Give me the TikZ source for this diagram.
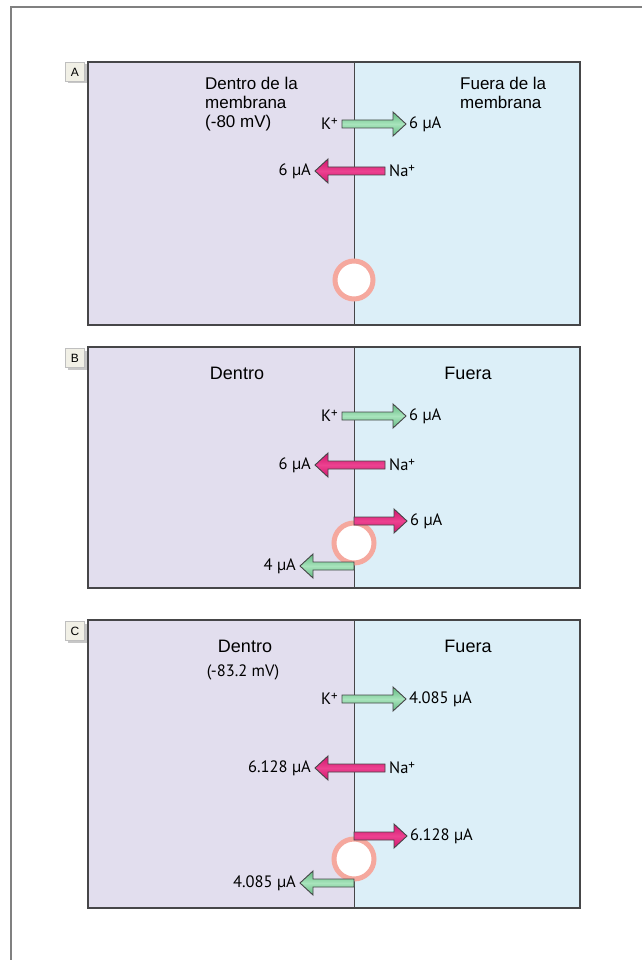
\documentclass[tikz,border=0pt]{standalone}
\usepackage{fontspec}
\setmainfont{Liberation Sans}
\newfontfamily\labfont{PT Sans}

\definecolor{inside}{RGB}{226,222,238}
\definecolor{outside}{RGB}{220,239,248}
\definecolor{edge}{RGB}{70,70,72}
\definecolor{frameline}{RGB}{128,128,128}
\definecolor{kgreen}{RGB}{96,184,128}
\definecolor{kgreenlight}{RGB}{168,228,188}
\definecolor{napink}{RGB}{210,20,108}
\definecolor{napinklight}{RGB}{236,66,144}
\definecolor{pumpring}{RGB}{245,168,158}
\definecolor{tagfill}{RGB}{241,240,230}

\tikzset{
  panel/.style={draw=edge, line width=1.1pt},
  membrane/.style={draw=edge, line width=1pt},
  kflux/.style={draw=edge, line width=0.9pt, top color=kgreen, bottom color=kgreen, middle color=kgreenlight},
  naflux/.style={draw=edge, line width=0.9pt, top color=napink, bottom color=napink, middle color=napinklight},
  pump/.style={draw=pumpring, line width=5pt, fill=white},
  tag/.style={draw=black!25, fill=tagfill, minimum width=19pt, minimum height=19pt, inner sep=0pt, font=\fontsize{12}{12}\selectfont},
  tagshadow/.style={fill=black!22},
  region/.style={font=\fontsize{17}{19}\selectfont, align=left, inner sep=0pt},
  side/.style={font=\fontsize{18}{20}\selectfont, inner sep=0pt},
  flux/.style={font=\labfont\fontsize{16.5}{18}\selectfont, inner sep=0pt},
}

% charge superscript on an ion symbol
\newcommand\ionplus{\raisebox{0.55ex}{\fontsize{13}{13}\selectfont +}}

% block arrow: tail x, head base x, tip x, y, style
\newcommand\fluxarrow[5]{%
  \path[#5] (#1,#4-4) -- (#2,#4-4) -- (#2,#4-12) -- (#3,#4)
    -- (#2,#4+12) -- (#2,#4+4) -- (#1,#4+4) -- cycle;}

% two-compartment panel between top and bottom y
\newcommand\cellpanel[2]{%
  \fill[inside] (88,#1) rectangle (354,#2);
  \fill[outside] (354,#1) rectangle (580,#2);
  \draw[membrane] (354,#1) -- (354,#2);
  \draw[panel] (88,#1) rectangle (580,#2);}

\newcommand\paneltag[3]{%
  \fill[tagshadow] (#2-7.5,#3-7.5) rectangle (#2+11.5,#3+11.5);
  \node[tag] (#1) at (#2,#3) {#1};}

\begin{document}
\begin{tikzpicture}[x=1pt,y=-1pt]
\useasboundingbox (0,0) rectangle (642,960);
\fill[white] (0,0) rectangle (642,960);
\draw[frameline, line width=2pt] (11,960) -- (11,7) -- (642,7);

% ---------- A: resting membrane ----------
\cellpanel{62}{325}
\paneltag{A}{75}{72}
\node[region, anchor=north west] (inA) at (205,77) {Dentro de la\\membrana\\(-80 mV)};
\node[region, anchor=north west] (outA) at (460,77) {Fuera de la\\membrana};
\fluxarrow{342}{393}{406}{124}{kflux}
\node[flux, anchor=east] (kA) at (338,124) {K\ionplus};
\node[flux, anchor=west] (kAval) at (409,124) {6 µA};
\fluxarrow{385}{328}{315}{171}{naflux}
\node[flux, anchor=east] (naAval) at (311,171) {6 µA};
\node[flux, anchor=west] (naA) at (389,171) {Na\ionplus};
\draw[pump] (354,280) circle (19);

% ---------- B: with the pump ----------
\cellpanel{347}{588}
\paneltag{B}{75}{358}
\node[side] (inB) at (237,373) {Dentro};
\node[side] (outB) at (468,373) {Fuera};
\fluxarrow{342}{393}{406}{416}{kflux}
\node[flux, anchor=east] (kB) at (338,416) {K\ionplus};
\node[flux, anchor=west] (kBval) at (409,416) {6 µA};
\fluxarrow{385}{328}{315}{465}{naflux}
\node[flux, anchor=east] (naBval) at (311,465) {6 µA};
\node[flux, anchor=west] (naB) at (389,465) {Na\ionplus};
\draw[pump] (354,543) circle (20);
\fluxarrow{354}{394}{407}{521}{naflux}
\node[flux, anchor=west] (pnaB) at (410,521) {6 µA};
\fluxarrow{354}{313}{300}{566}{kflux}
\node[flux, anchor=east] (pkB) at (296,566) {4 µA};

% ---------- C: new steady state ----------
\cellpanel{620}{908}
\paneltag{C}{75}{631}
\node[side] (inC) at (245,646) {Dentro};
\node[flux] (vC) at (243,672) {(-83.2 mV)};
\node[side] (outC) at (468,646) {Fuera};
\fluxarrow{342}{393}{406}{699}{kflux}
\node[flux, anchor=east] (kC) at (338,699) {K\ionplus};
\node[flux, anchor=west] (kCval) at (409,699) {4.085 µA};
\fluxarrow{385}{328}{315}{768}{naflux}
\node[flux, anchor=east] (naCval) at (311,768) {6.128 µA};
\node[flux, anchor=west] (naC) at (389,768) {Na\ionplus};
\draw[pump] (354,859) circle (20);
\fluxarrow{354}{394}{407}{836}{naflux}
\node[flux, anchor=west] (pnaC) at (410,836) {6.128 µA};
\fluxarrow{354}{313}{300}{883}{kflux}
\node[flux, anchor=east] (pkC) at (296,883) {4.085 µA};
\end{tikzpicture}
\end{document}
